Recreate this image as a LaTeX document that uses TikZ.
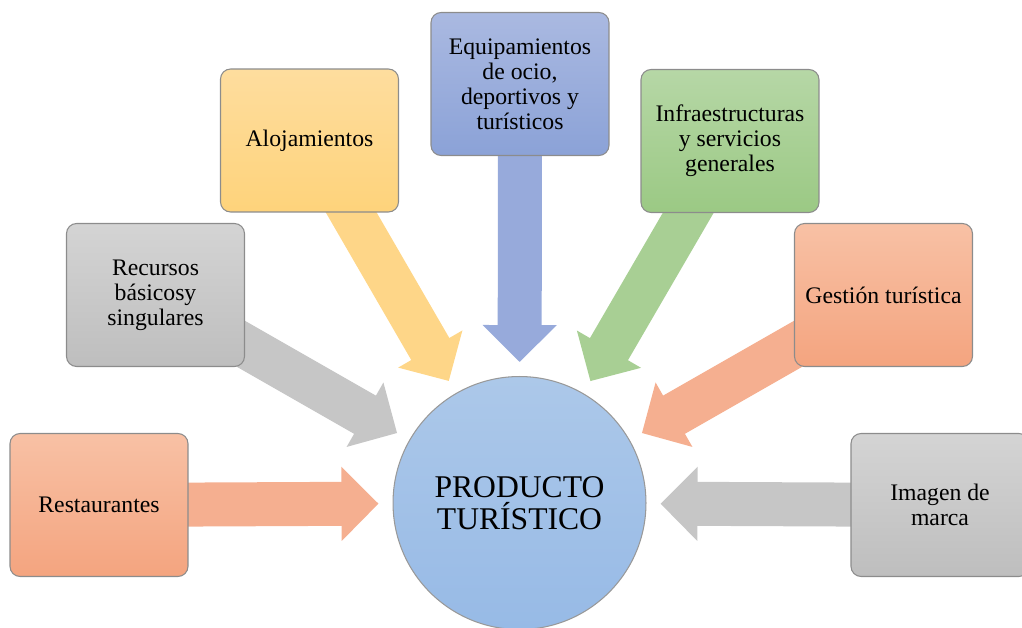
\documentclass[tikz,border=0pt]{standalone}
\usepackage{fontspec}
\setmainfont{Liberation Serif}
\usepackage{xcolor}
\usepackage{tikz}
\usetikzlibrary{
    arrows.meta,
    backgrounds
}
\definecolor{salmonTop}{HTML}{F8C1A5}
\definecolor{salmonBot}{HTML}{F4A47F}
\definecolor{salmonArr}{HTML}{F5AF90}
\definecolor{greyTop}{HTML}{D4D4D4}
\definecolor{greyBot}{HTML}{BEBEBE}
\definecolor{greyArr}{HTML}{C6C6C6}
\definecolor{sunTop}{HTML}{FEDD9E}
\definecolor{sunBot}{HTML}{FED37B}
\definecolor{sunArr}{HTML}{FED688}
\definecolor{skyTop}{HTML}{AAB9E1}
\definecolor{skyBot}{HTML}{8BA2D7}
\definecolor{skyArr}{HTML}{97AADB}
\definecolor{leafTop}{HTML}{B6D7A6}
\definecolor{leafBot}{HTML}{9BC984}
\definecolor{leafArr}{HTML}{A8CF94}
\definecolor{hubTop}{HTML}{ACC8E9}
\definecolor{hubBot}{HTML}{97BAE6}
\tikzset{
    factor/.style={
        rectangle, draw=black!45, line width=0.6pt,
        rounded corners=0.2cm,
        minimum width=3.56cm, minimum height=2.86cm,
        align=center,
        font=\fontsize{13.5}{14.3}\selectfont
    },
    hub/.style={
        circle, draw=black!40, line width=0.6pt,
        minimum size=5.06cm, inner sep=0pt,
        top color=hubTop, bottom color=hubBot,
        align=center,
        font=\fontsize{18}{18.2}\selectfont
    }
}

\begin{document}
\begin{tikzpicture}[
    x=0.02cm, y=-0.02cm,
    salmon/.style={factor, top color=salmonTop, bottom color=salmonBot},
    grey/.style={factor, top color=greyTop, bottom color=greyBot},
    sun/.style={factor, top color=sunTop, bottom color=sunBot},
    sky/.style={factor, top color=skyTop, bottom color=skyBot},
    leaf/.style={factor, top color=leafTop, bottom color=leafBot},
    feed/.style={line width=0.88cm, shorten >=2.82cm,
        -{Triangle[length=0.74cm, width=1.44cm]}}
]
    \useasboundingbox (0,0) rectangle (1022,628);

    % --- CENTRE ---
    \node[hub] (prod) at (519.5,503) {PRODUCTO\\TURÍSTICO};

    % --- FACTORS ---
    \node[salmon] (rest) at (99,505) {Restaurantes};
    \node[grey] (recur) at (155.5,295) {Recursos\\básicosy\\singulares};
    \node[sun] (aloj) at (309.5,140.5) {Alojamientos};
    \node[sky] (equip) at (520,84) {Equipamientos\\de ocio,\\deportivos y\\turísticos};
    \node[leaf] (infra) at (730,141) {Infraestructuras\\y servicios\\generales};
    \node[salmon] (gest) at (883.5,295) {Gestión turística};
    \node[grey] (imagen) at (940,505) {Imagen de\\marca};

    % --- ARROWS (behind the boxes) ---
    \begin{scope}[on background layer]
        \draw[feed, draw=salmonArr] (rest.center) -- (prod.center);
        \draw[feed, draw=greyArr] (recur.center) -- (prod.center);
        \draw[feed, draw=sunArr] (aloj.center) -- (prod.center);
        \draw[feed, draw=skyArr] (equip.center) -- (prod.center);
        \draw[feed, draw=leafArr] (infra.center) -- (prod.center);
        \draw[feed, draw=salmonArr] (gest.center) -- (prod.center);
        \draw[feed, draw=greyArr] (imagen.center) -- (prod.center);
    \end{scope}

\end{tikzpicture}
\end{document}
